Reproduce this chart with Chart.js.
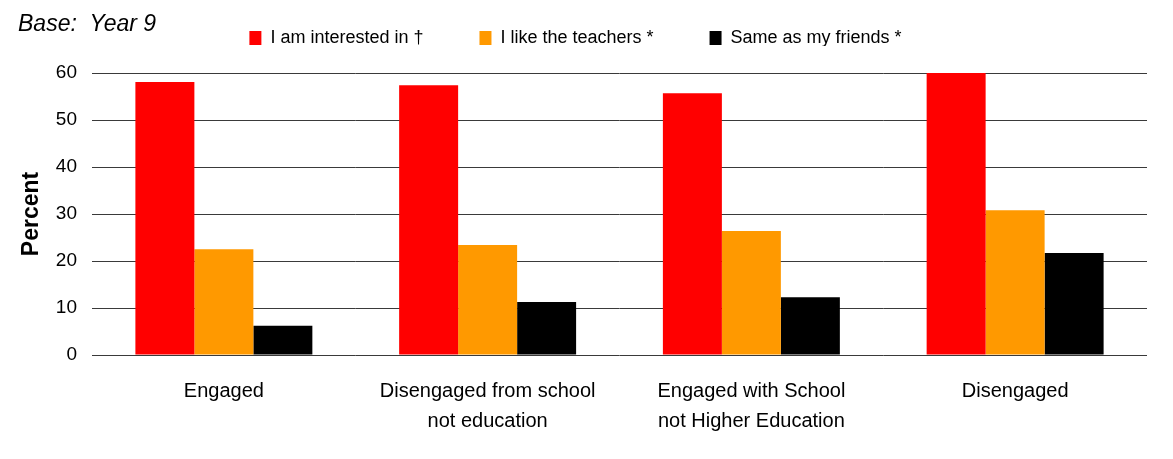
<!DOCTYPE html>
<html>
<head>
<meta charset="utf-8">
<script src="https://cdn.jsdelivr.net/npm/chart.js@4"></script>
<style>
  html, body { margin: 0; padding: 0; background: #fff; }
  #wrap { width: 1173px; height: 459px; }
</style>
</head>
<body>
<div id="wrap"><canvas id="chart" width="1173" height="459"></canvas></div>
<script>
const categories = [
  ['Engaged'],
  ['Disengaged from school', 'not education'],
  ['Engaged with School', 'not Higher Education'],
  ['Disengaged']
];
const seriesNames = ['I am interested in \u2020', 'I like the teachers *', 'Same as my friends *'];
const interested = [58.1, 57.4, 55.7, 60.0];
const teachers = [22.5, 23.4, 26.4, 30.8];
const friends = [6.2, 11.3, 12.3, 21.7];
const yTicks = [0, 10, 20, 30, 40, 50, 60];
const baseNote = 'Base:  Year 9';

const FONT = '"Liberation Sans", Arial, sans-serif';

// legend sits higher and a bit left of where chart.js would put it
const legendShift = { x: -3, y: -27 };

const tweaks = {
  id: 'tweaks',
  beforeLayout: function(chart) {
    const legend = chart.legend;
    if (legend && !legend._patched) {
      const fit = legend.fit;
      legend.fit = function() {
        fit.call(this);
        this.height = 73;
      };
      legend._patched = true;
    }
  },
  afterLayout: function(chart) {
    const legend = chart.legend;
    legend.left += legendShift.x;
    legend.right += legendShift.x;
    legend.top += legendShift.y;
    legend.bottom += legendShift.y;
  },
  afterDraw: function(chart) {
    const ctx = chart.ctx;
    ctx.save();
    ctx.font = 'italic 23px ' + FONT;
    ctx.fillStyle = '#000';
    ctx.textBaseline = 'alphabetic';
    ctx.fillText(baseNote, 18, 31);
    ctx.restore();
  }
};

new Chart(document.getElementById('chart'), {
  type: 'bar',
  data: {
    labels: categories,
    datasets: [{
      label: seriesNames[0],
      data: interested,
      backgroundColor: '#FF0000'
    }, {
      label: seriesNames[1],
      data: teachers,
      backgroundColor: '#FF9900'
    }, {
      label: seriesNames[2],
      data: friends,
      backgroundColor: '#000000'
    }]
  },
  options: {
    responsive: false,
    animation: false,
    events: [],
    layout: {
      padding: { left: 10, right: 26, top: 0, bottom: 0 }
    },
    datasets: {
      bar: {
        categoryPercentage: 0.671,
        barPercentage: 1.0
      }
    },
    plugins: {
      tooltip: { enabled: false },
      legend: {
        position: 'top',
        labels: {
          boxWidth: 12,
          boxHeight: 14,
          padding: 56,
          color: '#000',
          font: { family: FONT, size: 18 }
        }
      }
    },
    scales: {
      x: {
        grid: { display: false },
        border: { display: false },
        ticks: {
          color: '#000',
          maxRotation: 0,
          autoSkip: false,
          padding: 13,
          font: { family: FONT, size: 20, lineHeight: 1.5 }
        },
        afterFit: function(scale) {
          scale.height = 104;
        }
      },
      y: {
        min: 0,
        max: 60,
        afterBuildTicks: function(scale) {
          scale.ticks = yTicks.map((v) => ({ value: v }));
        },
        grid: {
          color: '#3a3a3a',
          lineWidth: 1,
          drawTicks: false
        },
        border: { display: false },
        ticks: {
          color: '#000',
          padding: 15,
          font: { family: FONT, size: 19 }
        },
        title: {
          display: true,
          text: 'Percent',
          color: '#000',
          padding: { top: 8, bottom: 0 },
          font: { family: FONT, size: 23, weight: 'bold' }
        },
        afterFit: function(scale) {
          scale.width = 82;
        }
      }
    }
  },
  plugins: [tweaks]
});
</script>
</body>
</html>
